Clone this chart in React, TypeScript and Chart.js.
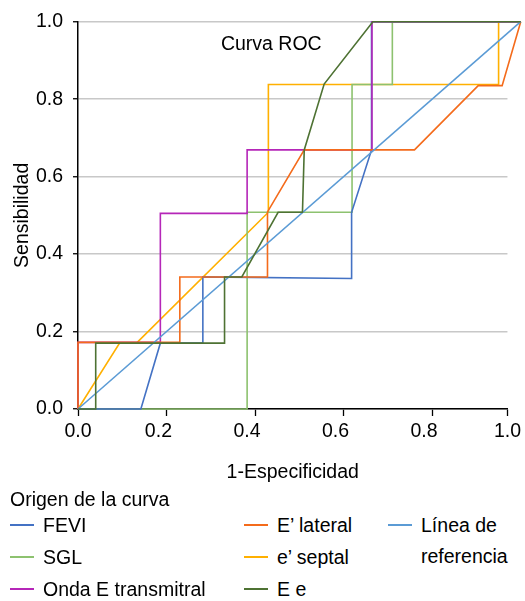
import { useEffect, useRef } from "react";
import { Chart, registerables } from "chart.js";

Chart.register(...registerables);

const FONT = "'Liberation Sans', Arial, Helvetica, sans-serif";
const FS = 19.5;

// ---- data ----
const chartTitle = "Curva ROC";
const xAxisTitle = "1-Especificidad";
const yAxisTitle = "Sensibilidad";
const legendTitle = "Origen de la curva";

const xTickValues = [0, 0.2, 0.4, 0.6, 0.8, 0.97];
const xTickLabels = ["0.0", "0.2", "0.4", "0.6", "0.8", "1.0"];

const feviX = [0, 0.142, 0.186, 0.282, 0.282, 0.618, 0.618, 0.663, 0.663, 1];
const feviY = [0, 0, 0.17, 0.17, 0.341, 0.337, 0.508, 0.669, 1, 1];

const sglX = [0, 0.382, 0.382, 0.619, 0.619, 0.71, 0.71, 1];
const sglY = [0, 0, 0.508, 0.508, 0.838, 0.838, 1, 1];

const ondaX = [0, 0, 0.186, 0.186, 0.382, 0.382, 0.664, 0.664, 1];
const ondaY = [0, 0.172, 0.172, 0.505, 0.505, 0.669, 0.669, 1, 1];

const lateralX = [0, 0, 0.23, 0.23, 0.428, 0.428, 0.511, 0.76, 0.904, 0.958, 1];
const lateralY = [0, 0.172, 0.172, 0.341, 0.341, 0.509, 0.669, 0.669, 0.835, 0.835, 1];

const septalX = [0, 0.094, 0.132, 0.43, 0.43, 0.95, 0.95, 1];
const septalY = [0, 0.17, 0.17, 0.508, 0.838, 0.838, 1, 1];

const eeX = [0, 0.04, 0.04, 0.331, 0.331, 0.37, 0.452, 0.507, 0.511, 0.556, 0.666, 1];
const eeY = [0, 0, 0.17, 0.17, 0.341, 0.341, 0.508, 0.508, 0.669, 0.839, 1, 1];

const refX = [0, 1];
const refY = [0, 1];

const seriesNames = [
  "FEVI",
  "SGL",
  "Onda E transmitral",
  "E\u2019 lateral",
  "e\u2019 septal",
  "E e",
  "L\u00ednea de referencia",
];
const seriesColors = ["#4472C4", "#8DC26F", "#B526B8", "#F46B1B", "#FFB000", "#4E7233", "#5B9BD5"];
const seriesXs = [feviX, sglX, ondaX, lateralX, septalX, eeX, refX];
const seriesYs = [feviY, sglY, ondaY, lateralY, septalY, eeY, refY];
// drawing order (lower = on top)
const seriesOrder = [4, 5, 3, 2, 6, 0, 1];

const titlePos = [0.4366, 0.941];

const titlePlugin = {
  id: "rocTitle",
  afterDatasetsDraw(chart: any) {
    const { ctx, scales } = chart;
    ctx.save();
    ctx.font = `${FS}px ${FONT}`;
    ctx.fillStyle = "#000";
    ctx.textAlign = "center";
    ctx.textBaseline = "middle";
    ctx.fillText(chartTitle, scales.x.getPixelForValue(titlePos[0]), scales.y.getPixelForValue(titlePos[1]));
    ctx.restore();
  },
};

export default function App() {
  const canvasRef = useRef<HTMLCanvasElement | null>(null);

  useEffect(() => {
    if (!canvasRef.current) return;
    const datasets = seriesNames.map((name, i) => ({
      label: name,
      data: seriesXs[i].map((x, j) => ({ x, y: seriesYs[i][j] })),
      showLine: true,
      borderColor: seriesColors[i],
      backgroundColor: seriesColors[i],
      borderWidth: 1.6,
      pointRadius: 0,
      pointHoverRadius: 0,
      tension: 0,
      fill: false,
      clip: false as any,
      order: seriesOrder[i],
    }));

    const font = { family: FONT, size: FS };
    const chart = new Chart(canvasRef.current, {
      type: "scatter",
      data: { datasets },
      options: {
        animation: false,
        responsive: false,
        events: [],
        layout: { padding: { top: 19, right: 16, left: 0, bottom: 0 } },
        plugins: {
          legend: { display: false },
          tooltip: { enabled: false },
          title: { display: false },
        },
        scales: {
          x: {
            type: "linear",
            position: "bottom",
            min: 0,
            max: 0.97,
            afterBuildTicks: (s: any) => {
              s.ticks = xTickValues.map((v) => ({ value: v }));
            },
            afterFit: (s: any) => {
              s.height = 81;
            },
            ticks: {
              autoSkip: false,
              maxRotation: 0,
              padding: 4,
              color: "#000",
              font,
              callback: (_v: any, i: number) => xTickLabels[i] + (i > 0 && i < 5 ? "   " : ""),
            },
            grid: { drawOnChartArea: false, tickLength: 7, tickColor: "#000", tickWidth: 1.3 },
            border: { color: "#000", width: 1.5 },
            title: { display: true, text: xAxisTitle, color: "#000", font, padding: { top: 0, bottom: 6 } },
          },
          y: {
            type: "linear",
            min: 0,
            max: 1,
            afterFit: (s: any) => {
              s.width = 78;
            },
            ticks: {
              stepSize: 0.2,
              padding: 10,
              color: "#000",
              font,
              callback: (v: any) => Number(v).toFixed(1),
            },
            grid: { color: "#c8c8c8", lineWidth: 1.5, tickLength: 5, tickColor: "#000", tickWidth: 1.3 },
            border: { color: "#000", width: 1.5 },
            title: { display: true, text: yAxisTitle, color: "#000", font, padding: { top: 11, bottom: 0 } },
          },
        },
      },
      plugins: [titlePlugin],
    });
    return () => chart.destroy();
  }, []);

  const colX = [10, 244, 388];
  const rowC = [525, 557, 589];
  const legendPos: [number, number][] = [
    [0, 0],
    [0, 1],
    [0, 2],
    [1, 0],
    [1, 1],
    [1, 2],
    [2, 0],
  ];

  return (
    <div
      style={{
        position: "absolute",
        left: 0,
        top: 0,
        width: 525,
        height: 601,
        background: "#fff",
        fontFamily: FONT,
        fontSize: FS,
        color: "#000",
        overflow: "hidden",
      }}
    >
      <canvas ref={canvasRef} width={525} height={490} style={{ position: "absolute", left: 0, top: 0, width: 525, height: 490 }} />
      <div style={{ position: "absolute", left: 10, top: 484, height: 30, lineHeight: "30px", whiteSpace: "nowrap" }}>
        {legendTitle}
      </div>
      {seriesNames.map((name, i) => {
        const [c, r] = legendPos[i];
        const isRef = i === 6;
        return (
          <div
            key={name}
            style={{
              position: "absolute",
              left: colX[c],
              top: rowC[r] - 15,
              display: "flex",
              alignItems: isRef ? "flex-start" : "center",
              height: isRef ? 62 : 30,
              whiteSpace: "nowrap",
            }}
          >
            <div
              style={{
                width: 24,
                height: 0,
                borderTop: `2px solid ${seriesColors[i]}`,
                marginTop: isRef ? 14 : 0,
                flex: "none",
              }}
            />
            <div style={{ marginLeft: 9, lineHeight: isRef ? "31px" : "30px" }}>
              {isRef ? (
                <>
                  <div>L{"\u00ed"}nea de</div>
                  <div>referencia</div>
                </>
              ) : (
                name
              )}
            </div>
          </div>
        );
      })}
    </div>
  );
}
